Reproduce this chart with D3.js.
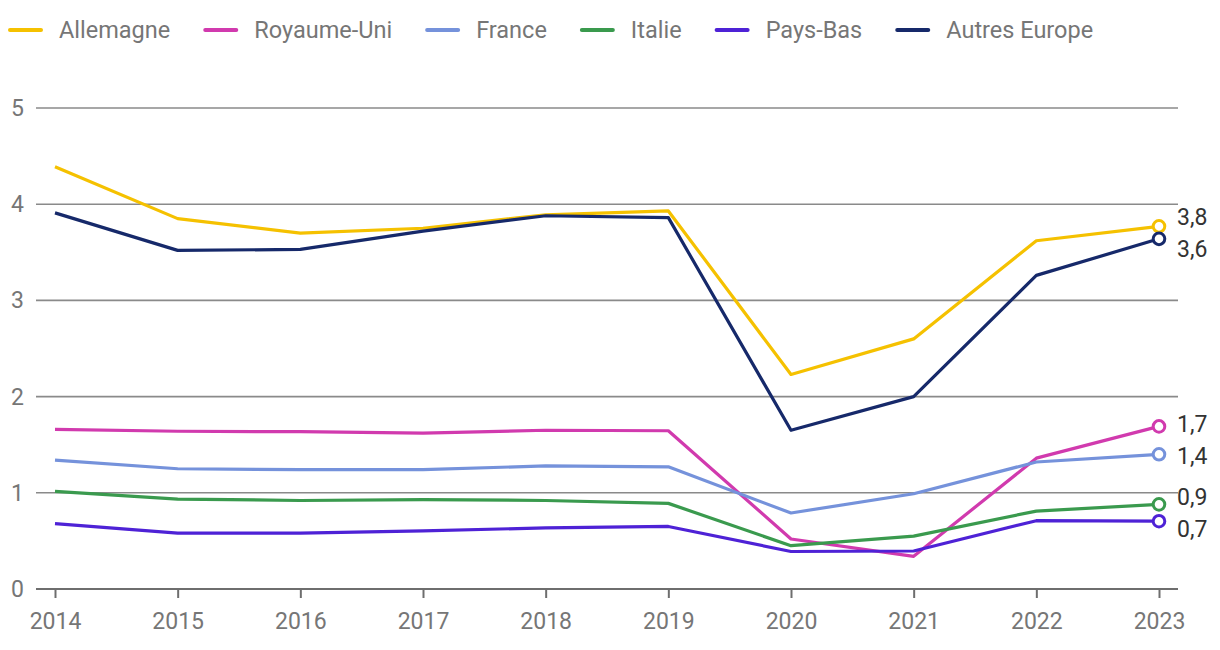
<!DOCTYPE html>
<html><head><meta charset="utf-8">
<script src="https://cdn.jsdelivr.net/npm/d3@7"></script>
<style>body{margin:0;background:#fff;font-family:Roboto,sans-serif}</style>
</head><body><svg id="c" width="1220" height="650"></svg>
<script>
const years = [2014,2015,2016,2017,2018,2019,2020,2021,2022,2023];
const seriesNames = ["Allemagne","Royaume-Uni","France","Italie","Pays-Bas","Autres Europe"];
const allemagne   = [4.39,3.85,3.70,3.75,3.89,3.93,2.23,2.60,3.62,3.77];
const royaumeUni  = [1.66,1.64,1.635,1.62,1.65,1.645,0.52,0.34,1.36,1.69];
const france      = [1.34,1.25,1.24,1.24,1.28,1.27,0.79,0.99,1.32,1.40];
const italie      = [1.015,0.935,0.92,0.93,0.92,0.89,0.45,0.55,0.81,0.88];
const paysBas     = [0.68,0.58,0.58,0.605,0.635,0.65,0.39,0.395,0.71,0.705];
const autresEurope= [3.91,3.52,3.53,3.72,3.88,3.86,1.65,2.00,3.26,3.64];
const yTicks = [0,1,2,3,4,5];
const colors = ["#F5C100","#D13AAE","#7592DB","#3A9A4E","#4E22D6","#16296A"];
const allSeries = [allemagne,royaumeUni,france,italie,paysBas,autresEurope];

const svg = d3.select("#c");
const x = d3.scalePoint().domain(years).range([55,1159]);
const y = d3.scaleLinear().domain([0,5]).range([589,108]);
const gridL = 36, gridR = 1178;
const grey = "#767676";

// grid
svg.append("g").selectAll("line").data(yTicks).join("line")
  .attr("x1",gridL).attr("x2",gridR)
  .attr("y1",d=>y(d)).attr("y2",d=>y(d))
  .attr("stroke",d=>d===0?"#6e6e6e":"#8a8a8a").attr("stroke-width",d=>d===0?2:1.6);
svg.append("g").selectAll("text").data(yTicks).join("text")
  .attr("x",24).attr("y",d=>y(d)).attr("dy","0.35em").attr("text-anchor","end")
  .attr("font-size",23).attr("fill",grey).text(d=>d);

// x axis
const xAxis = d3.axisBottom(x).tickSize(9).tickPadding(15).tickFormat(d3.format("d"));
const gx = svg.append("g").attr("transform",`translate(0,${y(0)})`).call(xAxis);
gx.select(".domain").remove();
gx.selectAll(".tick line").attr("stroke","#6e6e6e").attr("stroke-width",2);
gx.selectAll(".tick text").attr("font-size",23).attr("fill",grey).attr("font-family","Roboto");

// lines
const line = d3.line().x((d,i)=>x(years[i])).y(d=>y(d));
allSeries.forEach((s,k)=>{
  svg.append("path").datum(s).attr("d",line).attr("fill","none")
    .attr("stroke",colors[k]).attr("stroke-width",3.2).attr("stroke-linejoin","round");
});

// end markers
const last = years.length-1;
allSeries.forEach((s,k)=>{
  svg.append("circle").attr("cx",x(years[last])).attr("cy",y(s[last])).attr("r",5.8)
    .attr("fill","#fff").attr("stroke",colors[k]).attr("stroke-width",3);
});

// end labels with collision avoidance
const fmt = v => d3.format(".1f")(v).replace(".",",");
let labs = allSeries.map((s,k)=>({v:s[last], y:y(s[last]), t:fmt(s[last])}));
labs.sort((a,b)=>a.y-b.y);
const minGap = 32;
for(let it=0;it<200;it++){
  let moved=false;
  for(let i=0;i<labs.length-1;i++){
    const a=labs[i], b=labs[i+1];
    const d=b.y-a.y;
    if(d<minGap){ const s=(minGap-d)/2; a.y-=s; b.y+=s; moved=true; }
  }
  if(!moved)break;
}
svg.append("g").selectAll("text").data(labs).join("text")
  .attr("x",1177).attr("y",d=>d.y).attr("dy","0.35em")
  .attr("font-size",23).attr("fill","#333").text(d=>d.t);

// legend
const lg = svg.append("g");
let lx = 10;
seriesNames.forEach((n,k)=>{
  lg.append("line").attr("x1",lx).attr("x2",lx+31).attr("y1",30).attr("y2",30)
    .attr("stroke",colors[k]).attr("stroke-width",4).attr("stroke-linecap","round");
  const t = lg.append("text").attr("x",lx+49).attr("y",30).attr("dy","0.35em")
    .attr("font-size",23.5).attr("fill",grey).text(n);
  lx = lx + 49 + t.node().getComputedTextLength() + 35;
});
</script></body></html>
